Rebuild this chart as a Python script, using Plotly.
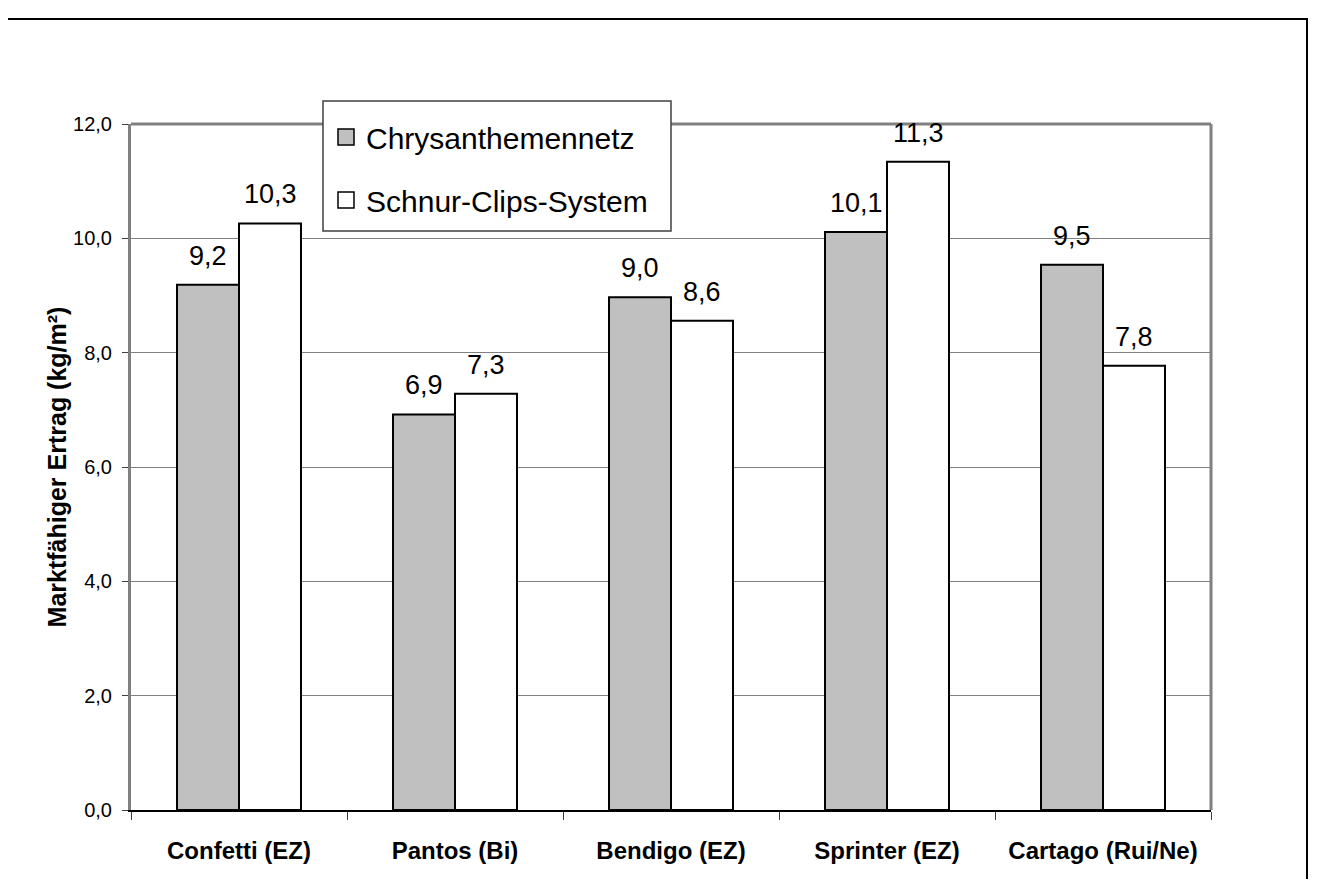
import plotly.graph_objects as go

categories = ["Confetti (EZ)", "Pantos (Bi)", "Bendigo (EZ)", "Sprinter (EZ)", "Cartago (Rui/Ne)"]
chrysanthemennetz = [9.19, 6.92, 8.97, 10.11, 9.54]
schnur_clips = [10.26, 7.28, 8.56, 11.34, 7.77]
series_names = ["Chrysanthemennetz", "Schnur-Clips-System"]
series_colors = ["#c0c0c0", "#ffffff"]
y_ticks = [0, 2, 4, 6, 8, 10, 12]

# page geometry (browser adds an 8px body margin)
OFF = 8
W, H = 1319 - 2 * OFF, 887 - 2 * OFF
L, R, T, B = 131, 1211, 124, 810  # plot area in page pixels


def px_x(p):
    return (p - L) / (R - L)


def px_y(p):
    return (B - p) / (B - T)


fig = go.Figure()
series_values = [chrysanthemennetz, schnur_clips]
for name, vals, col in zip(series_names, series_values, series_colors):
    fig.add_trace(go.Bar(
        x=categories, y=vals, name=name, showlegend=False,
        marker=dict(color=col, line=dict(color="black", width=2)),
    ))

# legend entries with larger square symbols
for i, (name, col) in enumerate(zip(series_names, series_colors)):
    fig.add_trace(go.Scatter(
        x=[None], y=[None], mode="markers", name=name, legendgroup=f"g{i}",
        marker=dict(symbol="square", size=18, color=col, line=dict(color="black", width=1.5)),
    ))

# value labels
annotations = []
shift = 31
for vals, xs in zip(series_values, [-shift, shift]):
    for c, v in zip(categories, vals):
        annotations.append(dict(
            x=c, y=v, xref="x", yref="y", text=f"{v:.1f}".replace(".", ","),
            showarrow=False, yanchor="bottom", xanchor="center", xshift=xs, yshift=12,
            font=dict(family="Liberation Sans, Arial", size=27, color="black"),
        ))

fig.update_layout(
    width=W, height=H,
    margin=dict(l=L - OFF, r=W - (R - OFF), t=T - OFF, b=H - (B - OFF), autoexpand=False),
    paper_bgcolor="white", plot_bgcolor="white",
    separators=", ",
    barmode="group", bargap=0.426, bargroupgap=0,
    font=dict(family="Liberation Sans, Arial", color="black"),
    showlegend=True,
    legend=dict(
        x=px_x(326), y=px_y(111), xanchor="left", yanchor="top",
        bgcolor="rgba(0,0,0,0)", borderwidth=0,
        font=dict(family="Liberation Sans, Arial", size=30, color="black"),
        itemsizing="trace", traceorder="grouped", tracegroupgap=21,
    ),
    annotations=annotations,
    xaxis=dict(
        showline=True, linecolor="black", linewidth=2,
        ticks="outside", tickson="boundaries", ticklen=8, tickcolor="#404040",
        tickfont=dict(family="Liberation Sans, Arial", size=24, color="black", weight="bold"),
        ticklabelstandoff=18,
        showgrid=False,
    ),
    yaxis=dict(
        range=[0, 12], tickvals=y_ticks, tickformat=".1f",
        showline=True, linecolor="#808080", linewidth=3,
        ticks="outside", ticklen=6, tickcolor="#404040",
        tickfont=dict(family="Liberation Sans, Arial", size=20, color="black"),
        ticklabelstandoff=6,
        showgrid=True, gridcolor="#808080", gridwidth=1,
        zeroline=False,
        title=dict(text="Marktfähiger Ertrag (kg/m²)", standoff=0,
                   font=dict(family="Liberation Sans, Arial", size=25, color="black", weight="bold")),
    ),
    shapes=[
        dict(type="line", xref="paper", yref="paper", x0=0, x1=1, y0=1, y1=1,
             line=dict(color="#808080", width=3), layer="below"),
        dict(type="line", xref="paper", yref="paper", x0=1, x1=1, y0=0, y1=1,
             line=dict(color="#808080", width=3), layer="below"),
        # legend box
        dict(type="rect", xref="paper", yref="paper",
             x0=px_x(323), x1=px_x(671), y0=px_y(101), y1=px_y(231),
             line=dict(color="#404040", width=1.5), fillcolor="white", layer="above"),
        # outer chart border
        dict(type="rect", xref="paper", yref="paper",
             x0=px_x(5), x1=px_x(1307), y0=px_y(19), y1=px_y(960),
             line=dict(color="black", width=2), fillcolor="rgba(0,0,0,0)", layer="below"),
    ],
)

fig.write_html("out.html")
